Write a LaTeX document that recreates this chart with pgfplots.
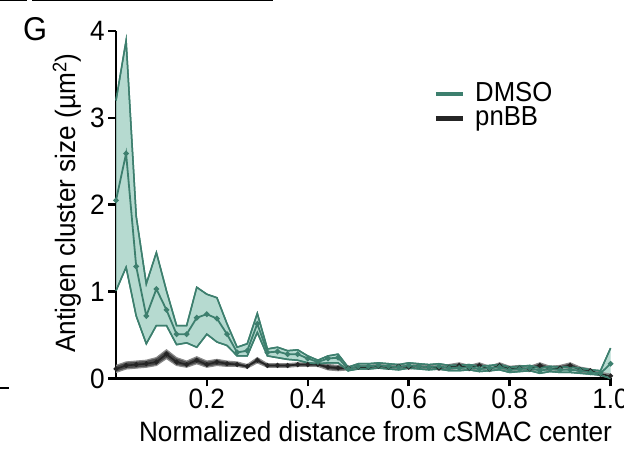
\documentclass[border=0pt]{standalone}
\usepackage{fontspec}
\setmainfont{Liberation Sans}[FakeStretch=0.935]
\usepackage{pgfplots}
\pgfplotsset{compat=1.18}
\usepgfplotslibrary{fillbetween}
\usepackage{pgfplotstable}
\definecolor{dline}{HTML}{3D7F6E}
\definecolor{dfill}{HTML}{A9D4C8}
\definecolor{pline}{HTML}{252525}
\definecolor{pedge}{HTML}{8A8A8A}
\definecolor{pfill}{HTML}{4A4A4A}

\pgfplotstableread{
x mean lo hi
0.02 2.05 1.01 3.20
0.04 2.59 1.28 3.89
0.06 1.29 0.72 1.87
0.08 0.72 0.40 1.09
0.10 1.03 0.61 1.45
0.12 0.79 0.61 1.01
0.14 0.51 0.39 0.61
0.16 0.51 0.41 0.61
0.18 0.70 0.36 1.05
0.20 0.74 0.51 0.97
0.22 0.69 0.42 0.93
0.24 0.51 0.38 0.63
0.26 0.30 0.26 0.36
0.28 0.32 0.26 0.40
0.30 0.63 0.53 0.75
0.32 0.30 0.26 0.34
0.34 0.31 0.24 0.36
0.36 0.28 0.22 0.32
0.38 0.28 0.21 0.33
0.40 0.23 0.18 0.26
0.42 0.19 0.17 0.21
0.44 0.23 0.18 0.26
0.46 0.24 0.18 0.28
0.48 0.11 0.09 0.13
0.50 0.14 0.11 0.17
0.52 0.14 0.11 0.17
0.54 0.15 0.12 0.18
0.56 0.14 0.11 0.17
0.58 0.13 0.10 0.16
0.60 0.15 0.12 0.18
0.62 0.14 0.11 0.17
0.64 0.13 0.10 0.16
0.66 0.14 0.11 0.17
0.68 0.12 0.09 0.15
0.70 0.12 0.09 0.15
0.72 0.13 0.10 0.16
0.74 0.11 0.08 0.14
0.76 0.12 0.09 0.15
0.78 0.13 0.10 0.16
0.80 0.10 0.07 0.13
0.82 0.11 0.08 0.14
0.84 0.12 0.09 0.15
0.86 0.09 0.06 0.12
0.88 0.11 0.08 0.14
0.90 0.10 0.07 0.13
0.92 0.10 0.07 0.13
0.94 0.09 0.06 0.12
0.96 0.07 0.05 0.10
0.98 0.06 0.04 0.09
1.00 0.17 0.00 0.35
}\dmso

\pgfplotstableread{
x mean lo hi
0.02 0.11 0.07 0.15
0.04 0.15 0.11 0.19
0.06 0.16 0.12 0.20
0.08 0.17 0.13 0.21
0.10 0.19 0.15 0.24
0.12 0.28 0.23 0.33
0.14 0.19 0.15 0.24
0.16 0.16 0.13 0.20
0.18 0.21 0.17 0.25
0.20 0.16 0.13 0.20
0.22 0.19 0.15 0.22
0.24 0.17 0.14 0.20
0.26 0.16 0.14 0.19
0.28 0.14 0.12 0.16
0.30 0.21 0.18 0.24
0.32 0.15 0.13 0.17
0.34 0.15 0.13 0.17
0.36 0.15 0.13 0.17
0.38 0.16 0.14 0.18
0.40 0.16 0.14 0.18
0.42 0.16 0.14 0.18
0.44 0.13 0.10 0.16
0.46 0.12 0.09 0.15
0.48 0.12 0.10 0.14
0.50 0.13 0.11 0.15
0.52 0.13 0.11 0.15
0.54 0.14 0.12 0.16
0.56 0.13 0.11 0.15
0.58 0.14 0.12 0.16
0.60 0.13 0.11 0.15
0.62 0.14 0.12 0.16
0.64 0.13 0.11 0.15
0.66 0.12 0.10 0.14
0.68 0.13 0.10 0.16
0.70 0.15 0.12 0.18
0.72 0.12 0.09 0.15
0.74 0.15 0.12 0.18
0.76 0.11 0.08 0.14
0.78 0.15 0.12 0.18
0.80 0.11 0.08 0.14
0.82 0.12 0.09 0.15
0.84 0.11 0.08 0.14
0.86 0.15 0.12 0.18
0.88 0.11 0.08 0.14
0.90 0.12 0.09 0.15
0.92 0.15 0.12 0.18
0.94 0.10 0.07 0.13
0.96 0.09 0.06 0.11
0.98 0.05 0.03 0.07
1.00 0.03 0.01 0.05
}\pnbb

\begin{document}
\begin{tikzpicture}
\fontsize{28bp}{33bp}\selectfont
\begin{axis}[
  at={(116bp,70.5bp)}, anchor=south west,
  scale only axis, width=494.6bp, height=347.5bp,
  xmin=0.02, xmax=1.0, ymin=0, ymax=4,
  axis lines=left, axis line style={-, line width=2.5bp, black},
  tick align=outside, tick pos=left,
  major tick length=8bp,
  tick style={line width=2.5bp, black},
  xtick={0.2,0.4,0.6,0.8,1.0},
  xticklabels={0.2,0.4,0.6,0.8,1.0},
  ytick={0,1,2,3,4},
  yticklabels={0,1,2,3,4},
  ticklabel style={font=\fontsize{28bp}{33bp}\selectfont},
  xticklabel style={inner sep=2bp},
  yticklabel style={inner sep=3bp},
  xlabel={Normalized distance from cSMAC center},
  ylabel={Antigen cluster size (µm\textsuperscript{2})},
  label style={font=\fontsize{28bp}{33bp}\selectfont},
  xlabel style={at={(axis description cs:0.5247,-0.18)}, anchor=base, inner sep=0pt},
  ylabel style={at={(axis description cs:-0.099,0.505)}, anchor=center, inner sep=0pt},
  clip=false,
  legend style={draw=none, fill=none, at={(axis description cs:0.642,0.858)}, anchor=north west,
    font=\fontsize{27.5bp}{27bp}\selectfont, row sep=-3bp, inner sep=0pt,
    /tikz/every odd column/.append style={column sep=8bp}},
  legend cell align=left,
  legend image code/.code={\draw[#1, line width=4.5bp] (0bp,0bp) -- (27bp,0bp);},
]
\addlegendimage{dline}
\addlegendentry{DMSO}
\addlegendimage{pline}
\addlegendentry{pnBB}

% pnBB band
\addplot[name path=pH, pedge, line width=1.2bp, forget plot] table[x=x,y=hi] {\pnbb};
\addplot[name path=pL, pedge, line width=1.2bp, forget plot] table[x=x,y=lo] {\pnbb};
\addplot[pfill, forget plot] fill between[of=pH and pL];
\addplot[pline, line width=1.6bp, mark=*, mark size=1.6bp, forget plot] table[x=x,y=mean] {\pnbb};

% DMSO band
\addplot[name path=dH, dline, line width=1.5bp, forget plot] table[x=x,y=hi] {\dmso};
\addplot[name path=dL, dline, line width=1.5bp, forget plot] table[x=x,y=lo] {\dmso};
\addplot[dfill, fill opacity=0.85, forget plot] fill between[of=dH and dL];
\addplot[dline, line width=1.5bp, forget plot] table[x=x,y=hi] {\dmso};
\addplot[dline, line width=1.5bp, forget plot] table[x=x,y=lo] {\dmso};
\addplot[dline, line width=1.8bp, mark=*, mark size=1.8bp, forget plot] table[x=x,y=mean] {\dmso};
\end{axis}
\node[font=\fontsize{33bp}{38bp}\selectfont] at (35bp,420bp) {G};
\draw[line width=2bp] (0bp,61bp) -- (9bp,61bp);
\draw[line width=2bp] (0bp,448.5bp) -- (27bp,448.5bp);
\draw[line width=2bp] (32bp,448.5bp) -- (273bp,448.5bp);
\pgfresetboundingbox
\path (0bp,0bp) rectangle (624bp,449bp);
\end{tikzpicture}
\end{document}
